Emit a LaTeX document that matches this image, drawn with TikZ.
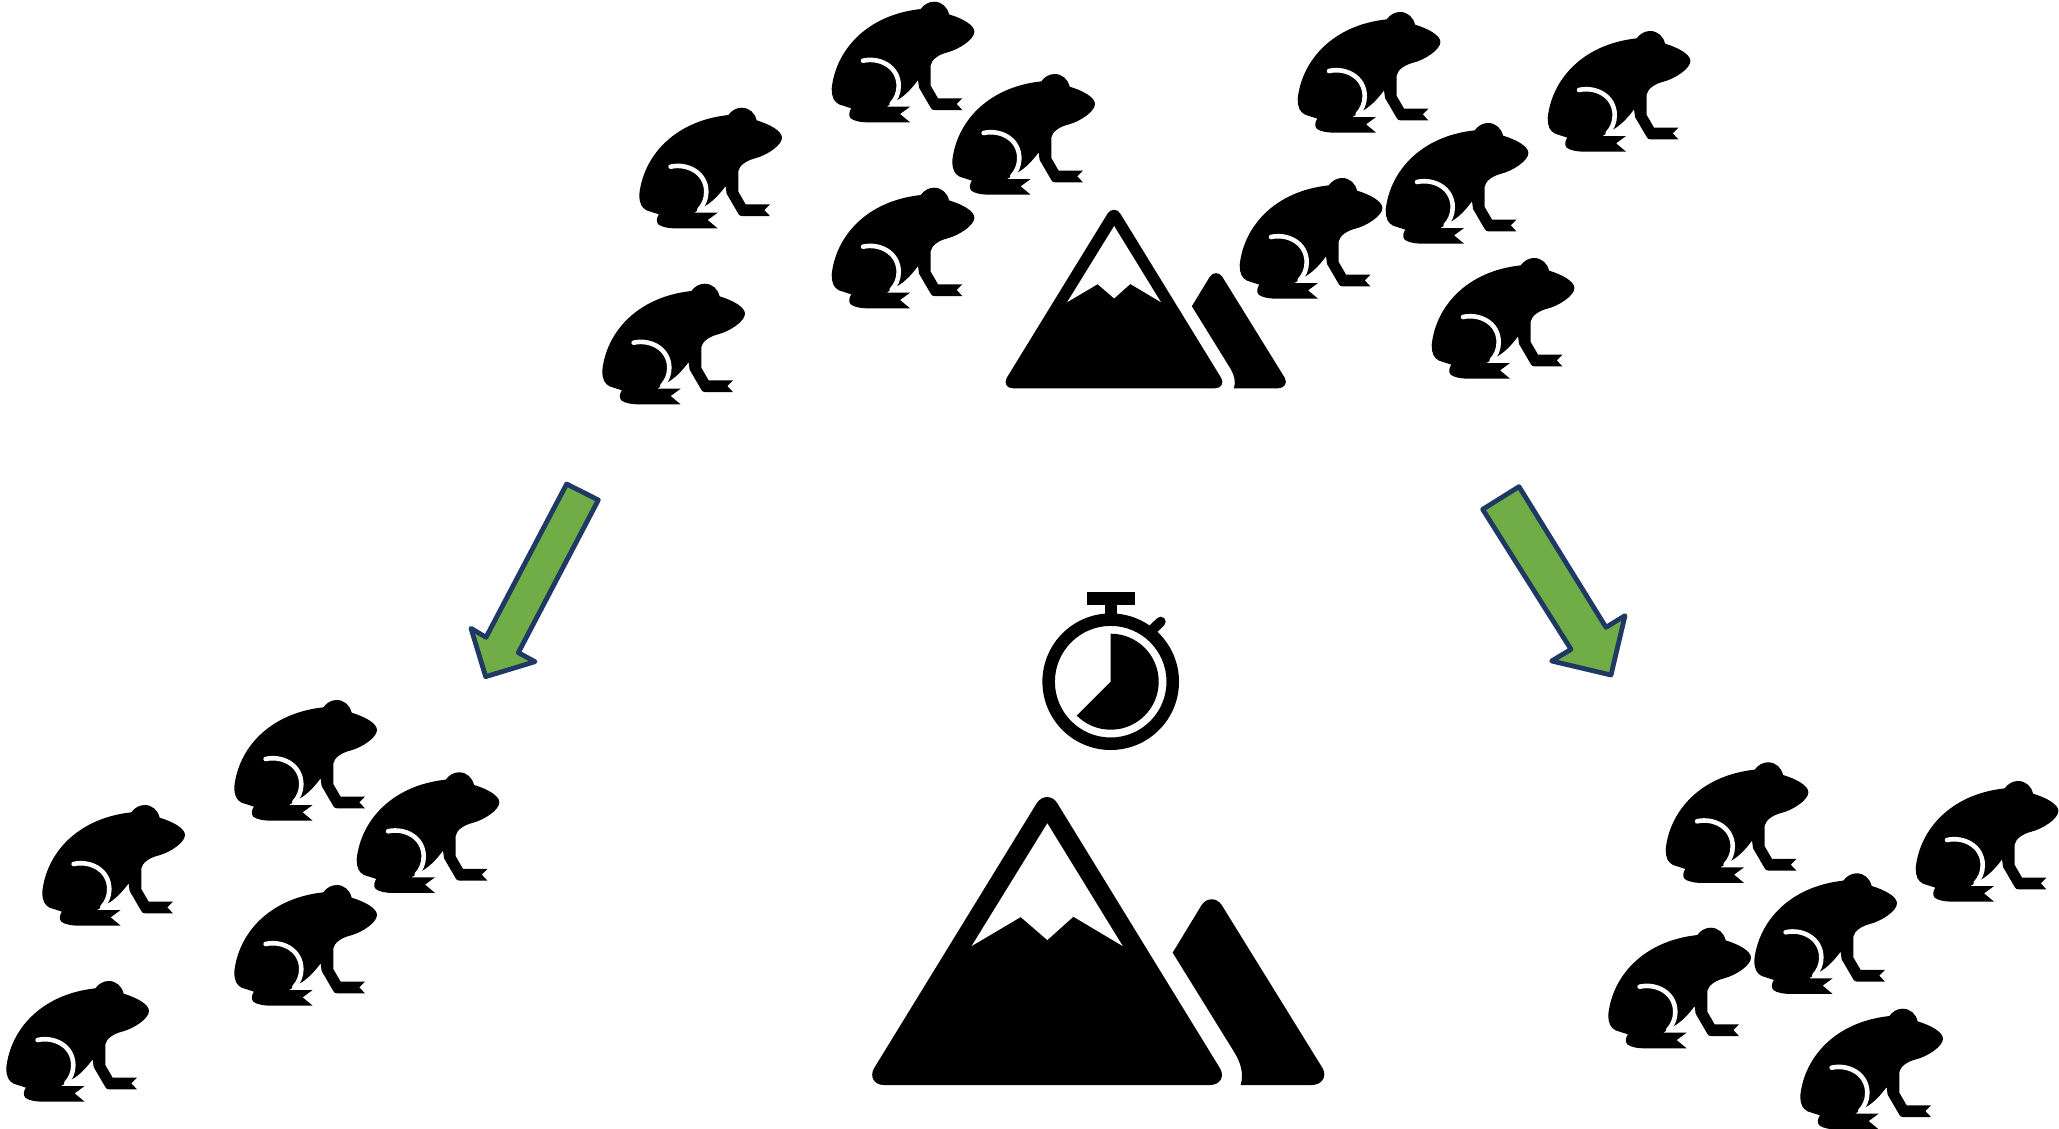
\documentclass[tikz,border=0pt]{standalone}
\definecolor{arrowgreen}{HTML}{70AD47}
\definecolor{arrowblue}{HTML}{1F3864}
\tikzset{
  x=1pt,y=-1pt,
  ink/.style={fill=black,draw=none},
  blank/.style={fill=white,draw=none},
  bigarrow/.style={fill=arrowgreen,draw=arrowblue,line width=4.8pt,line join=round},
  frogleg/.style={draw=white,line width=4.6pt,line cap=round},
  pics/frog/.style={code={
    \begin{scope}[x=1pt/3,y=-1pt/3]
    \fill[ink] (295,44) .. controls (305,30) and (320,22) .. (335,22)
      .. controls (358,22) and (375,38) .. (380,60)
      .. controls (420,72) and (456,92) .. (456,112)
      .. controls (456,135) and (410,165) .. (375,174)
      .. controls (350,180) and (328,195) .. (325,212)
      -- (325,274) -- (347,312) -- (420,312) -- (403,329) -- (420,347) -- (337,347)
      .. controls (330,347) and (328,345) .. (325,340)
      -- (290,280) -- (287,257) .. controls (272,277) and (255,297) .. (233,312)
      -- (192,337) -- (263,337) -- (233,359) -- (263,384)
      -- (140,384) .. controls (115,384) and (95,380) .. (85,372)
      .. controls (78,365) and (80,350) .. (87,342) -- (50,330)
      .. controls (35,322) and (28,310) .. (28,282)
      .. controls (40,170) and (130,62) .. (295,44) -- cycle;
    \draw[frogleg] (122,199) .. controls (170,188) and (229,215) .. (229,275)
      .. controls (229,297) and (220,315) .. (208,328);
    \end{scope}
  }},
  pics/peaks/.style={code={
    \begin{scope}[x=1pt/3,y=-1pt/3]
    \fill[ink] (42,835) -- (530,40) .. controls (545,15) and (578,15) .. (592,40)
      -- (1080,835) .. controls (1095,860) and (1080,885) .. (1050,885)
      -- (72,885) .. controls (42,885) and (28,860) .. (42,835) -- cycle;
    \fill[blank] (335,468) -- (482,381) -- (562,450) -- (640,380) -- (788,468) -- (562,100) -- cycle;
    \fill[ink] (938,488) -- (1025,345) .. controls (1040,322) and (1070,322) .. (1085,345)
      -- (1388,835) .. controls (1402,860) and (1385,885) .. (1355,885)
      -- (1142,885) .. controls (1152,850) and (1142,820) .. (1125,790) -- cycle;
    \end{scope}
  }}
}
\begin{document}
\begin{tikzpicture}
\useasboundingbox (0,0) rectangle (2059,1129);
% frogs (left edge / top edge in pixels)
\foreach \a/\b in {639.3/107.7,602.3/283.7,831.7/1.7,952.3/74,831.7/187.7,
  1297.7/12,1547.7/31,1385.7/123,1239.7/178,1431.7/258,
  234.3/700,356.7/772.3,42.3/805,234.3/885,6.3/981,
  1665.7/762.3,1915.7/781,1754.3/873.3,1608.3/927.7,1800.3/1008.7}{
  \pic at ({\a-9.33},{\b-7.33}) {frog};
}
% mountains
\pic at (860,790) {peaks};
\pic[scale=0.62] at (998,205.4) {peaks};
% arrows
\begin{scope}[shift={(460,470)},x=1pt/3,y=-1pt/3]
\draw[bigarrow] (320,42) -- (415,90) -- (175,548) -- (225,575) -- (77,620) -- (33,475) -- (78,502) -- cycle;
\end{scope}
\begin{scope}[shift={(1470,470)},x=1pt/3,y=-1pt/3]
\draw[bigarrow] (147,50) -- (408,472) -- (465,437) -- (423,615) -- (245,573) -- (303,538) -- (38,118) -- cycle;
\end{scope}
% stopwatch
\fill[ink] (1087.3,592) rectangle (1135.3,604.5);
\fill[ink] (1105,600) rectangle (1117.3,620);
\draw[line width=10pt,line cap=round] (1150,632) -- (1160.7,621.7);
\fill[ink,even odd rule] (1110.7,681.7) circle[radius=68.3] (1110.7,681.7) circle[radius=55.8];
\begin{scope}[shift={(1110.7,681.7)},y=1pt]
\fill[ink] (0,0) -- (90:48) arc[start angle=90,end angle=-135,radius=48] -- cycle;
\end{scope}
\end{tikzpicture}
\end{document}
